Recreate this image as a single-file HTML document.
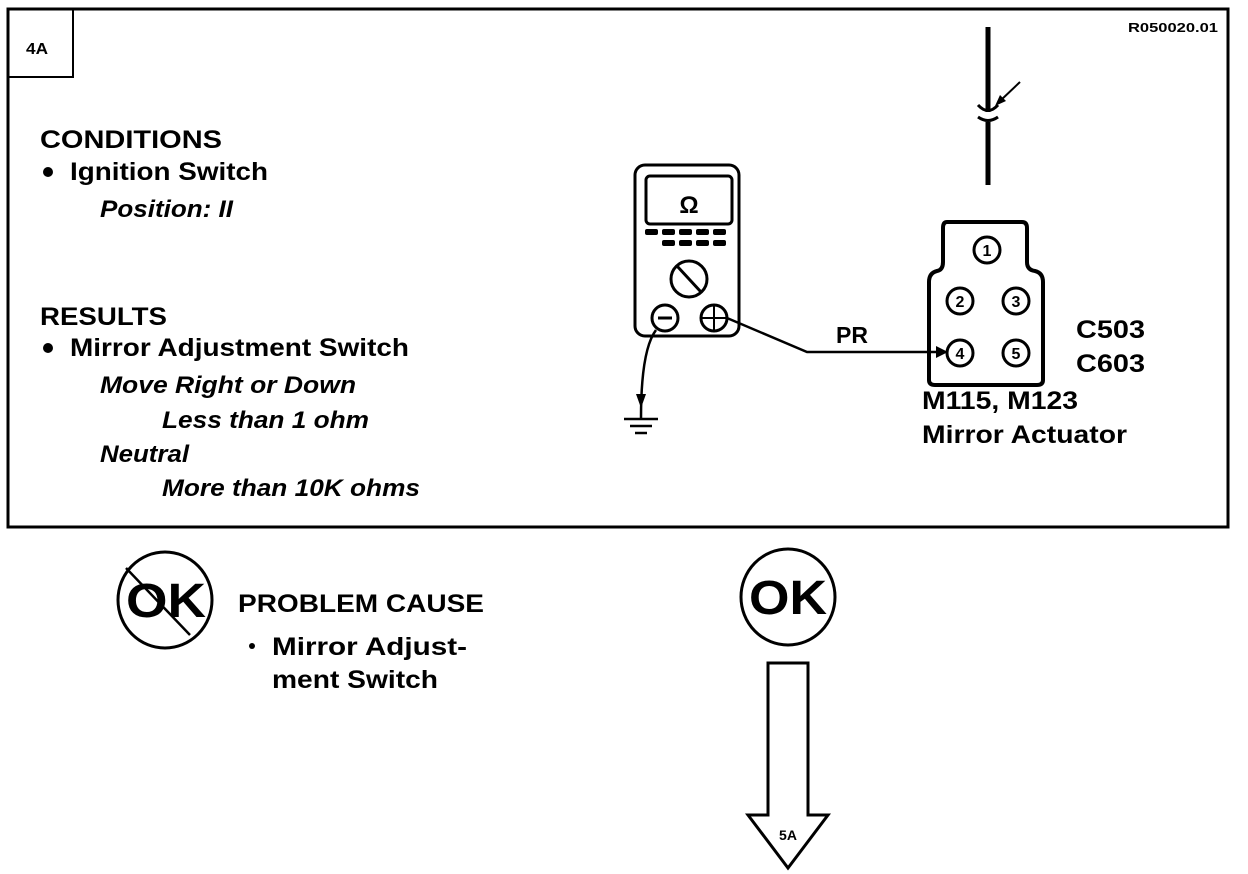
<!DOCTYPE html>
<html><head><meta charset="utf-8"><style>
html,body{margin:0;padding:0;background:#fff;}
svg{display:block;}
text{font-family:"Liberation Sans",Arial,sans-serif;font-weight:bold;fill:#000;}
.i{font-style:italic;}
</style></head><body>
<svg width="1248" height="874" viewBox="0 0 1248 874" xmlns="http://www.w3.org/2000/svg">
<rect x="8" y="9" width="1220" height="518" fill="none" stroke="#000" stroke-width="3"/>
<path d="M8 77 H73 V9" fill="none" stroke="#000" stroke-width="2"/>
<text x="26" y="54" font-size="16" lengthAdjust="spacingAndGlyphs" textLength="22">4A</text>
<text x="1128" y="32" font-size="13" lengthAdjust="spacingAndGlyphs" textLength="90">R050020.01</text>

<text x="40" y="148" font-size="25" lengthAdjust="spacingAndGlyphs" textLength="182">CONDITIONS</text>
<circle cx="48" cy="172" r="5"/>
<text x="70" y="180" font-size="25" lengthAdjust="spacingAndGlyphs" textLength="198">Ignition Switch</text>
<text x="100" y="217" font-size="24" class="i" lengthAdjust="spacingAndGlyphs" textLength="133">Position: II</text>
<text x="40" y="325" font-size="25" lengthAdjust="spacingAndGlyphs" textLength="127">RESULTS</text>
<circle cx="48" cy="348" r="5"/>
<text x="70" y="356" font-size="25" lengthAdjust="spacingAndGlyphs" textLength="339">Mirror Adjustment Switch</text>
<text x="100" y="393" font-size="24" class="i" lengthAdjust="spacingAndGlyphs" textLength="256">Move Right or Down</text>
<text x="162" y="428" font-size="24" class="i" lengthAdjust="spacingAndGlyphs" textLength="207">Less than 1 ohm</text>
<text x="100" y="462" font-size="24" class="i" lengthAdjust="spacingAndGlyphs" textLength="89">Neutral</text>
<text x="162" y="496" font-size="24" class="i" lengthAdjust="spacingAndGlyphs" textLength="258">More than 10K ohms</text>

<!-- meter -->
<rect x="635" y="165" width="104" height="171" rx="10" fill="none" stroke="#000" stroke-width="3"/>
<rect x="646" y="176" width="86" height="48" rx="4" fill="none" stroke="#000" stroke-width="3"/>
<text x="689" y="213" font-size="24" text-anchor="middle">Ω</text>
<g fill="#000">
<rect x="645" y="229" width="13" height="6" rx="2"/><rect x="662" y="229" width="13" height="6" rx="2"/><rect x="679" y="229" width="13" height="6" rx="2"/><rect x="696" y="229" width="13" height="6" rx="2"/><rect x="713" y="229" width="13" height="6" rx="2"/>
<rect x="662" y="240" width="13" height="6" rx="2"/><rect x="679" y="240" width="13" height="6" rx="2"/><rect x="696" y="240" width="13" height="6" rx="2"/><rect x="713" y="240" width="13" height="6" rx="2"/>
</g>
<ellipse cx="689" cy="279" rx="18" ry="18" fill="none" stroke="#000" stroke-width="3"/>
<line x1="677" y1="266" x2="701" y2="292" stroke="#000" stroke-width="3"/>
<circle cx="665" cy="318" r="13" fill="none" stroke="#000" stroke-width="3"/>
<line x1="658" y1="318" x2="672" y2="318" stroke="#000" stroke-width="3"/>
<circle cx="714" cy="318" r="13" fill="none" stroke="#000" stroke-width="3"/>
<line x1="701" y1="318" x2="727" y2="318" stroke="#000" stroke-width="2"/>
<line x1="714" y1="305" x2="714" y2="331" stroke="#000" stroke-width="2"/>
<!-- wires -->
<polyline points="727,318 807,352 945,352" fill="none" stroke="#000" stroke-width="2.5"/>
<polygon points="948,352 936,346 936,358" fill="#000"/>
<path d="M656 330 Q641 350 641 418" fill="none" stroke="#000" stroke-width="2.5"/>
<polygon points="641,408 636,394 646,394" fill="#000"/>
<line x1="624" y1="419" x2="658" y2="419" stroke="#000" stroke-width="2.5"/>
<line x1="630" y1="426" x2="652" y2="426" stroke="#000" stroke-width="2.5"/>
<line x1="635" y1="433" x2="647" y2="433" stroke="#000" stroke-width="2.5"/>
<text x="836" y="343" font-size="23">PR</text>
<!-- vertical wire -->
<line x1="988" y1="27" x2="988" y2="112" stroke="#000" stroke-width="5"/>
<line x1="988" y1="122" x2="988" y2="185" stroke="#000" stroke-width="5"/>
<path d="M978 105 Q988 116 998 105" fill="none" stroke="#000" stroke-width="3"/>
<path d="M978 117 Q988 124 998 117" fill="none" stroke="#000" stroke-width="3"/>
<line x1="1020" y1="82" x2="1000" y2="101" stroke="#000" stroke-width="2"/>
<polygon points="995,106 1000,95 1006,101" fill="#000"/>
<!-- connector -->
<path d="M947 222 H1022 Q1027 222 1027 228 V262 Q1027 270 1035 271 Q1043 273 1043 282 V380 Q1043 385 1037 385 H935 Q929 385 929 380 V282 Q929 273 937 271 Q943 270 943 262 V228 Q943 222 947 222 Z" fill="none" stroke="#000" stroke-width="4"/>
<g fill="none" stroke="#000" stroke-width="3">
<circle cx="987" cy="250" r="13"/><circle cx="960" cy="301" r="13"/><circle cx="1016" cy="301" r="13"/><circle cx="960" cy="353" r="13"/><circle cx="1016" cy="353" r="13"/>
</g>
<g font-size="16" text-anchor="middle">
<text x="987" y="256">1</text><text x="960" y="307">2</text><text x="1016" y="307">3</text><text x="960" y="359">4</text><text x="1016" y="359">5</text>
</g>
<text x="1076" y="338" font-size="25" lengthAdjust="spacingAndGlyphs" textLength="69">C503</text>
<text x="1076" y="372" font-size="25" lengthAdjust="spacingAndGlyphs" textLength="69">C603</text>
<text x="922" y="409" font-size="25" lengthAdjust="spacingAndGlyphs" textLength="156">M115, M123</text>
<text x="922" y="443" font-size="25" lengthAdjust="spacingAndGlyphs" textLength="205">Mirror Actuator</text>

<!-- bottom -->
<ellipse cx="165" cy="600" rx="47" ry="48" fill="none" stroke="#000" stroke-width="3"/>
<text x="126" y="617" font-size="48" lengthAdjust="spacingAndGlyphs" textLength="80">OK</text>
<line x1="126" y1="568" x2="190" y2="635" stroke="#000" stroke-width="2.5"/>
<text x="238" y="612" font-size="25" lengthAdjust="spacingAndGlyphs" textLength="246">PROBLEM CAUSE</text>
<circle cx="252" cy="646" r="3"/>
<text x="272" y="655" font-size="25" lengthAdjust="spacingAndGlyphs" textLength="195">Mirror Adjust-</text>
<text x="272" y="688" font-size="25" lengthAdjust="spacingAndGlyphs" textLength="166">ment Switch</text>

<ellipse cx="788" cy="597" rx="47" ry="48" fill="none" stroke="#000" stroke-width="3"/>
<text x="749" y="614" font-size="48" lengthAdjust="spacingAndGlyphs" textLength="78">OK</text>
<polygon points="768,663 808,663 808,815 828,815 788,868 748,815 768,815" fill="none" stroke="#000" stroke-width="3"/>
<text x="788" y="840" font-size="14" text-anchor="middle">5A</text>
</svg>
</body></html>
